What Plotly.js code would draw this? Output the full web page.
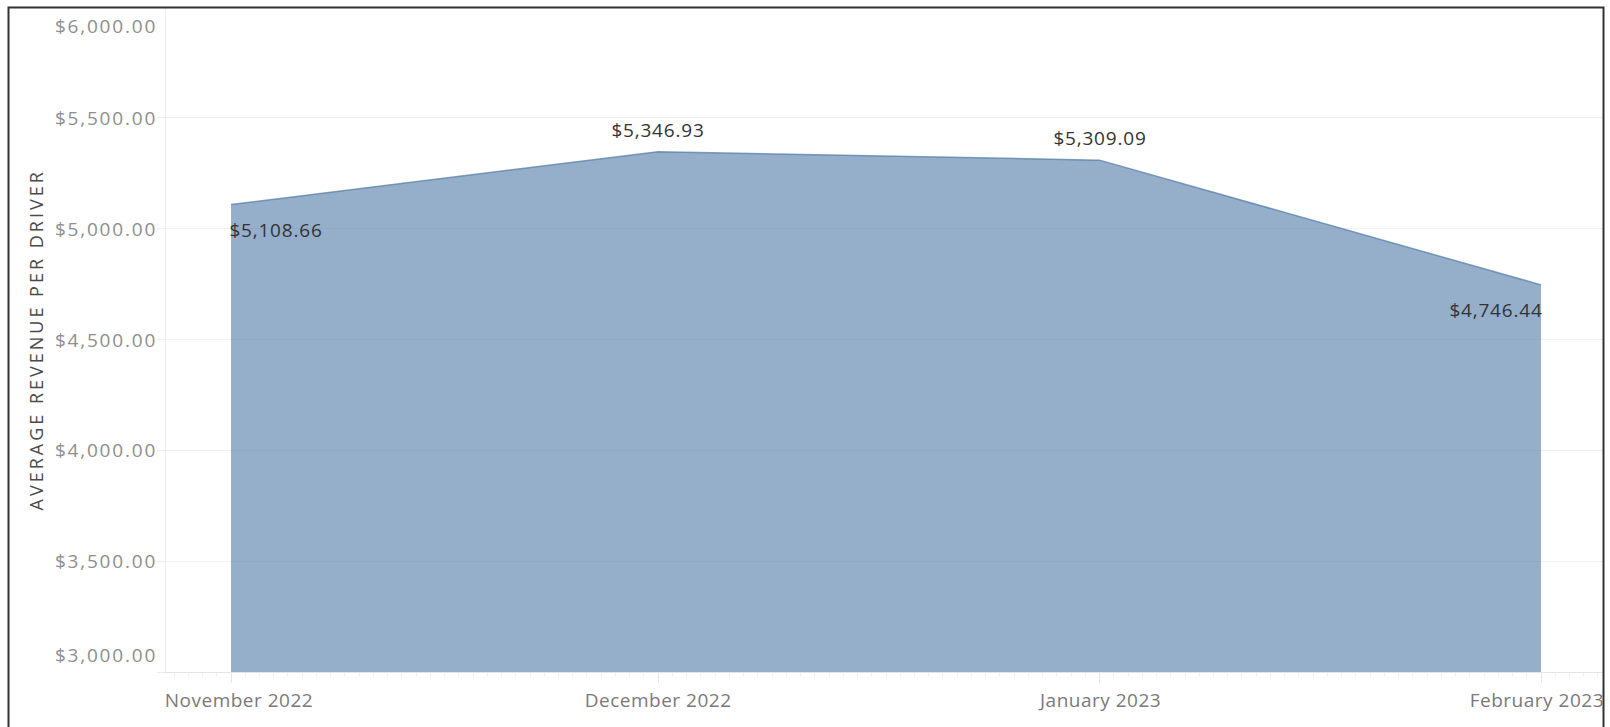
<!DOCTYPE html>
<html>
<head>
<meta charset="utf-8">
<script src="https://cdn.plot.ly/plotly-3.0.1.min.js"></script>
<style>
  html, body { margin: 0; padding: 0; background: #fff; }
  #chart { width: 1610px; height: 727px; }
</style>
</head>
<body>
<div id="chart"></div>
<script>
// ---- data ----
const months = ['2022-11-01', '2022-12-01', '2023-01-01', '2023-02-01'];
const monthLabels = ['November 2022', 'December 2022', 'January 2023', 'February 2023'];
const avgRevenue = [5108.66, 5346.93, 5309.09, 4746.44];
const yTickValues = [3000, 3500, 4000, 4500, 5000, 5500, 6000];
const yAxisTitle = 'AVERAGE REVENUE PER DRIVER';

// ---- styling helpers ----
const FONT = 'Open Sans, Lato, sans-serif';
const fmtMoney = v => '$' + v.toLocaleString('en-US', {minimumFractionDigits: 2, maximumFractionDigits: 2});

const trace = {
  type: 'scatter',
  mode: 'lines',
  x: months,
  y: avgRevenue,
  fill: 'tozeroy',
  fillcolor: 'rgba(78,121,167,0.6)',
  line: {color: 'rgba(78,121,167,0.7)', width: 1.5},
  hoverinfo: 'x+y'
};

const annotations = [];
const spacing = {}; // annotation index -> letter-spacing px
// y-axis title
spacing[annotations.length] = 3;
annotations.push({
  text: yAxisTitle, xref: 'paper', yref: 'paper', x: -0.0905, y: 0.5,
  textangle: -90, showarrow: false, xanchor: 'center', yanchor: 'middle',
  font: {family: FONT, size: 18, color: '#4a4a4a'}
});
// y tick labels
const yMin = yTickValues[0], yMax = yTickValues[yTickValues.length - 1];
yTickValues.forEach(v => {
  spacing[annotations.length] = 1.8;
  annotations.push({
    text: fmtMoney(v), xref: 'paper', yref: 'y', x: 0, y: v,
    xanchor: 'right', yanchor: 'middle', xshift: -15,
    yshift: v === yMax ? -19 : (v === yMin ? 17 : 0),
    showarrow: false, font: {family: FONT, size: 19, color: '#8e8e8e'}
  });
});
// x labels (clamped like the original)
months.forEach((m, i) => {
  const first = i === 0, last = i === months.length - 1;
  spacing[annotations.length] = 0.5;
  annotations.push({
    text: monthLabels[i],
    xref: first || last ? 'paper' : 'x', yref: 'paper',
    x: first ? 0 : (last ? 1 : m), y: -0.042,
    xanchor: first ? 'left' : (last ? 'right' : 'center'), yanchor: 'middle',
    showarrow: false, font: {family: FONT, size: 19, color: '#7a7a7a'}
  });
});
// data labels
months.forEach((m, i) => {
  const first = i === 0, last = i === months.length - 1;
  const below = first || last;
  spacing[annotations.length] = 0.8;
  annotations.push({
    text: fmtMoney(avgRevenue[i]), xref: 'x', yref: 'y', x: m, y: avgRevenue[i],
    xanchor: first ? 'left' : (last ? 'right' : 'center'), yanchor: 'middle',
    yshift: below ? -25 : 22,
    showarrow: false, font: {family: FONT, size: 19, color: '#333'}
  });
});

// letter-spacing css per annotation
const css = Object.keys(spacing).map(k =>
  'g.annotation[data-index="' + k + '"] text { letter-spacing: ' + spacing[k] + 'px; }').join('\n');
const st = document.createElement('style');
st.textContent = css;
document.head.appendChild(st);

const layout = {
  width: 1610, height: 727,
  margin: {l: 166, r: 7, t: 7, b: 55, pad: 0},
  paper_bgcolor: '#fff', plot_bgcolor: '#fff',
  showlegend: false,
  xaxis: {
    type: 'date',
    range: ['2022-10-27 10:26', '2023-02-05 08:30'],
    tick0: '2022-11-01', dtick: 'M1',
    ticks: 'outside', ticklen: 10, tickcolor: '#e6e6e6', tickwidth: 1,
    showticklabels: false, showgrid: false, zeroline: false,
    showline: true, linecolor: '#e6e6e6', linewidth: 1,
    minor: {dtick: 86400000, tick0: '2022-11-01', ticks: 'outside', ticklen: 4, tickcolor: '#f0f0f0', showgrid: false}
  },
  yaxis: {
    range: [yMin, yMax],
    tickvals: yTickValues, showticklabels: false,
    ticks: 'outside', ticklen: 8, tickcolor: '#ececec',
    showgrid: true, gridcolor: '#f0f0f0', gridwidth: 1,
    zeroline: false, showline: true, linecolor: '#ececec', linewidth: 1
  },
  annotations: annotations,
  shapes: [{
    type: 'rect', xref: 'paper', yref: 'paper',
    x0: (8.5 - 166) / 1437, x1: (1603.5 - 166) / 1437,
    y0: (672 - 740) / 665, y1: (672 - 7.5) / 665,
    line: {color: '#333', width: 2}, fillcolor: 'rgba(0,0,0,0)', layer: 'above'
  }]
};

Plotly.newPlot('chart', [trace], layout, {displayModeBar: false});
</script>
</body>
</html>
